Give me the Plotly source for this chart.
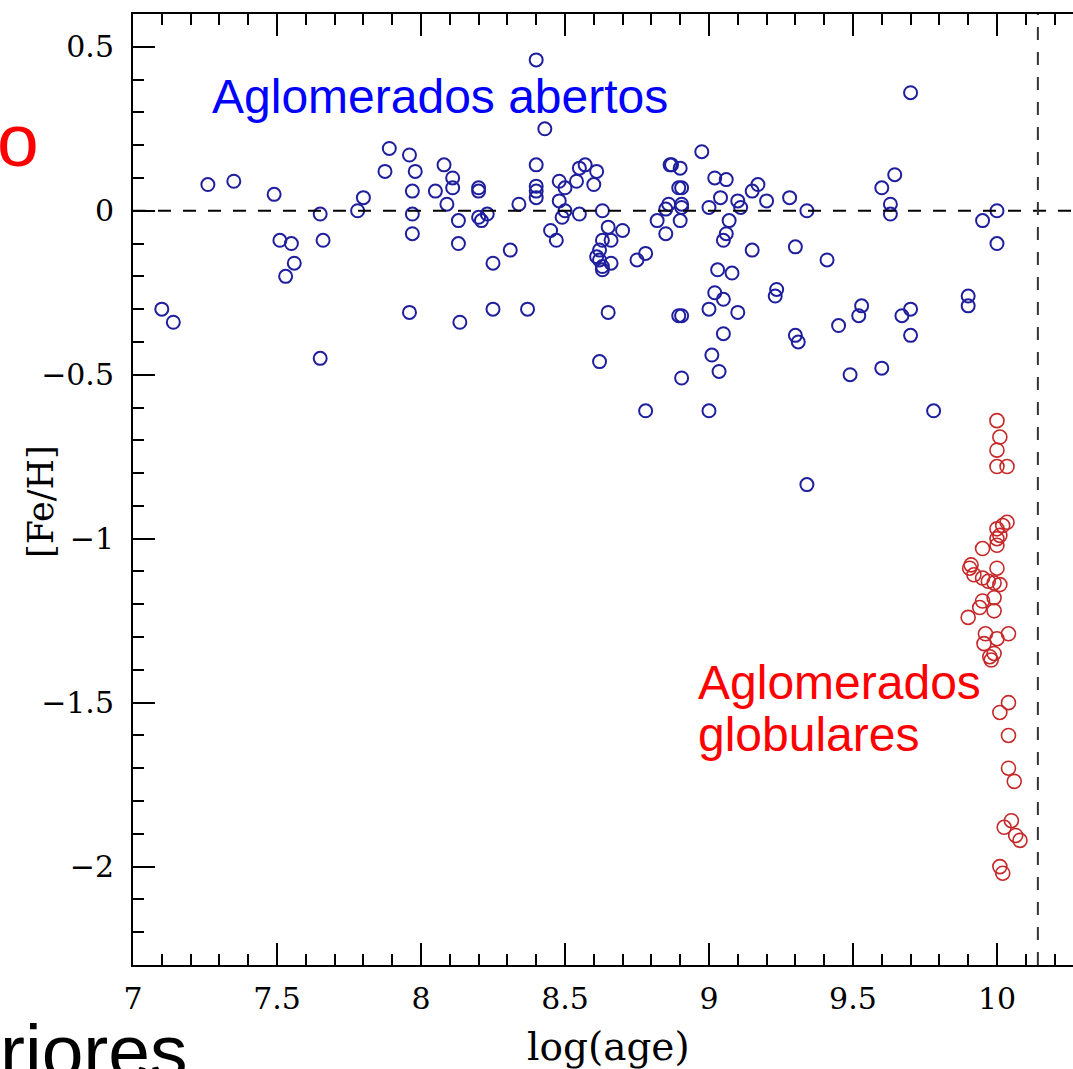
import plotly.graph_objects as go

# ---- data ----
# Open clusters (Aglomerados abertos): log(age), [Fe/H]
open_logage = [
    7.10, 7.14, 7.26, 7.35, 7.49, 7.51, 7.55, 7.56, 7.53, 7.65, 7.66, 7.65,
    7.78, 7.80, 7.875, 7.89, 7.96, 7.98, 7.97, 7.97, 7.97, 7.96,
    8.08, 8.11, 8.05, 8.11, 8.09, 8.13, 8.13, 8.135, 8.20, 8.20, 8.20, 8.21,
    8.23, 8.25, 8.25, 8.31, 8.34, 8.37, 8.40, 8.43, 8.40, 8.40, 8.40, 8.40,
    8.45, 8.47, 8.48, 8.50, 8.48, 8.50, 8.49, 8.54, 8.55, 8.55, 8.57, 8.61,
    8.60, 8.63, 8.65, 8.70, 8.66, 8.63, 8.62, 8.61, 8.62, 8.66, 8.63, 8.63,
    8.65, 8.62, 8.75, 8.78, 8.82, 8.85, 8.85, 8.86, 8.865, 8.87, 8.90, 8.895,
    8.905, 8.905, 8.905, 8.90, 8.895, 8.905, 8.905, 8.975, 9.00, 9.00, 9.01,
    9.02, 9.06, 9.04, 9.10, 9.11, 9.15, 9.17, 9.20, 9.28, 9.34, 9.07, 9.06,
    9.05, 9.15, 9.30, 9.41, 9.03, 9.08, 9.02, 9.05, 9.10, 9.235, 9.23, 9.45,
    9.53, 9.52, 9.67, 9.70, 9.70, 9.05, 9.30, 9.31, 9.035, 9.49, 9.60, 9.60,
    9.645, 9.63, 9.63, 9.95, 10.00, 10.00, 9.90, 9.90, 9.70, 8.78, 9.00, 9.78,
    9.34,
]
open_feh = [
    -0.30, -0.34, 0.08, 0.09, 0.05, -0.09, -0.10, -0.16, -0.20, -0.01, -0.09, -0.45,
    0.00, 0.04, 0.12, 0.19, 0.17, 0.12, 0.06, -0.01, -0.07, -0.31,
    0.14, 0.10, 0.06, 0.07, 0.02, -0.03, -0.10, -0.34, 0.07, 0.06, -0.02, -0.03,
    -0.01, -0.16, -0.30, -0.12, 0.02, -0.30, 0.46, 0.25, 0.14, 0.075, 0.06, 0.04,
    -0.06, -0.09, 0.09, 0.07, 0.03, 0.00, -0.02, 0.09, -0.01, 0.13, 0.14, 0.12,
    0.08, 0.00, -0.05, -0.06, -0.09, -0.09, -0.12, -0.14, -0.15, -0.16, -0.17, -0.18,
    -0.31, -0.46, -0.15, -0.13, -0.03, -0.07, 0.005, 0.02, 0.14, 0.14, 0.13, 0.07,
    0.07, 0.02, 0.01, -0.03, -0.32, -0.32, -0.51, 0.18, 0.01, -0.30, -0.44,
    0.10, 0.095, 0.04, 0.03, 0.01, 0.06, 0.08, 0.03, 0.04, 0.00, -0.03, -0.07,
    -0.09, -0.12, -0.11, -0.15, -0.18, -0.19, -0.25, -0.27, -0.31, -0.24, -0.26, -0.35,
    -0.29, -0.32, -0.32, -0.30, -0.38, -0.375, -0.38, -0.40, -0.49, -0.50, -0.48, 0.07,
    0.11, 0.02, -0.01, -0.03, 0.00, -0.10, -0.26, -0.29, 0.36, -0.61, -0.61, -0.61,
    -0.835,
]

# Globular clusters (Aglomerados globulares)
glob_logage = [
    10.00, 10.01, 10.00, 10.00, 10.035, 10.035, 10.02, 10.00, 10.01, 10.00, 10.00, 9.95,
    9.91, 9.905, 9.92, 10.00, 9.95, 9.97, 9.99, 10.01, 9.99, 9.95, 9.94, 9.99, 9.90,
    9.96, 10.00, 10.04, 9.955, 9.99, 9.975, 9.98, 10.04, 10.01, 10.04, 10.04, 10.06,
    10.05, 10.025, 10.065, 10.08, 10.01, 10.02,
]
glob_feh = [
    -0.64, -0.69, -0.73, -0.78, -0.78, -0.95, -0.96, -0.97, -0.99, -1.00, -1.02, -1.03,
    -1.08, -1.09, -1.11, -1.09, -1.12, -1.13, -1.135, -1.14, -1.18, -1.19, -1.21, -1.22, -1.24,
    -1.29, -1.305, -1.29, -1.32, -1.35, -1.36, -1.37, -1.50, -1.53, -1.60, -1.70, -1.74,
    -1.86, -1.88, -1.905, -1.92, -2.00, -2.02,
]

x_range = [7.0, 10.264]
y_range = [-2.3, 0.6]
solar_feh = 0.0          # horizontal dashed reference line
universe_logage = 10.142  # vertical dashed reference line

BLUE = "#1f1f9e"
RED = "#c62828"
SERIF = "DejaVu Serif"
SANS = "Liberation Sans"

fig = go.Figure()
fig.add_trace(go.Scatter(
    x=open_logage, y=open_feh, mode="markers", showlegend=False,
    marker=dict(symbol="circle-open", size=13, color=BLUE,
                line=dict(width=2, color=BLUE)),
))
fig.add_trace(go.Scatter(
    x=glob_logage, y=glob_feh, mode="markers", showlegend=False,
    marker=dict(symbol="circle-open", size=14, color=RED,
                line=dict(width=1.6, color=RED)),
))

# reference lines
fig.add_shape(type="line", xref="paper", yref="y", x0=0, x1=1,
              y0=solar_feh, y1=solar_feh,
              line=dict(color="black", width=2, dash="13px,12px"))
fig.add_shape(type="line", xref="x", yref="paper", x0=universe_logage,
              x1=universe_logage, y0=0, y1=1,
              line=dict(color="#333333", width=2, dash="13px,12px"))

tickfont = dict(family=SERIF, size=30, color="black")
fig.update_layout(
    width=1073, height=1069,
    margin=dict(l=133, r=0, t=14, b=104),
    paper_bgcolor="white", plot_bgcolor="white",
    xaxis=dict(range=x_range, dtick=0.5, tick0=7, ticks="inside", ticklen=22,
               tickwidth=2, tickcolor="black", showline=True, linewidth=2,
               linecolor="black", mirror="ticks", showgrid=False, zeroline=False,
               tickfont=tickfont, ticklabelstandoff=6,
               minor=dict(dtick=0.1, ticks="inside", ticklen=11, tickwidth=2,
                          tickcolor="black", showgrid=False)),
    yaxis=dict(range=y_range, dtick=0.5, tick0=0, ticks="inside", ticklen=22,
               tickwidth=2, tickcolor="black", showline=True, linewidth=2,
               linecolor="black", mirror=False, showgrid=False, zeroline=False,
               tickfont=tickfont, ticklabelstandoff=11,
               minor=dict(dtick=0.1, ticks="inside", ticklen=11, tickwidth=2,
                          tickcolor="black", showgrid=False)),
    yaxis2=dict(range=y_range, overlaying="y", side="right", dtick=0.5, tick0=0,
                ticks="inside", ticklen=11, tickwidth=2, tickcolor="black",
                showline=False, showgrid=False, zeroline=False,
                showticklabels=False),
)

annotations = [
    dict(text="Aglomerados abertos", xref="x", yref="y", x=7.268, y=0.3476,
         xanchor="left", yanchor="middle", showarrow=False,
         font=dict(family=SANS, size=48, color="#0000ff")),
    dict(text="Aglomerados", xref="x", yref="y", x=8.955, y=-1.439,
         xanchor="left", yanchor="middle", showarrow=False,
         font=dict(family=SANS, size=48, color="#ff0000")),
    dict(text="globulares", xref="x", yref="y", x=8.955, y=-1.598,
         xanchor="left", yanchor="middle", showarrow=False,
         font=dict(family=SANS, size=48, color="#ff0000")),
    dict(text="log(age)", xref="paper", yref="paper", x=0.5059, y=-0.0862,
         xanchor="center", yanchor="middle", showarrow=False,
         font=dict(family=SERIF, size=39, color="black")),
    dict(text="[Fe/H]", xref="paper", yref="paper", x=-0.0979, y=0.4879,
         xanchor="center", yanchor="middle", showarrow=False, textangle=-90,
         font=dict(family=SERIF, size=35, color="black")),
    dict(text="o", xref="paper", yref="paper", x=-0.0975, y=0.8675,
         xanchor="right", yanchor="middle", showarrow=False,
         font=dict(family=SANS, size=75, color="#ff0000")),
    dict(text="riores", xref="paper", yref="paper", x=0.0606, y=-0.090,
         xanchor="right", yanchor="middle", showarrow=False,
         font=dict(family=SANS, size=75, color="black")),
]
fig.update_layout(annotations=annotations)

fig.write_html("out.html", config={"displayModeBar": False},
               post_script="document.body.style.margin='0px';")
